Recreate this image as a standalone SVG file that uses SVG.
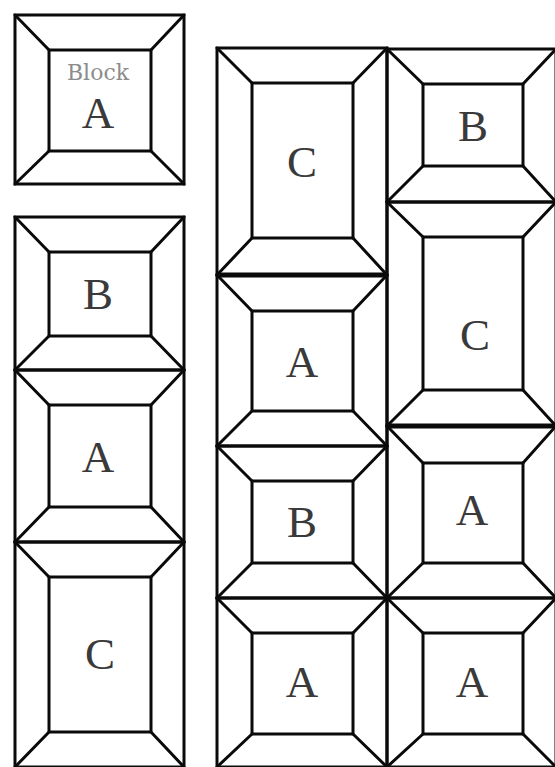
<svg xmlns="http://www.w3.org/2000/svg" width="555" height="767" viewBox="0 0 555 767">
<style>
.o,.i{fill:none;stroke:#0a0a0a;stroke-width:3}
.d{fill:none;stroke:#0a0a0a;stroke-width:3;stroke-linecap:round}
.seam{stroke:#0a0a0a;stroke-width:5}
.lbl{font-family:"Liberation Serif","Times New Roman",serif;font-size:45px;fill:#3a3a3a;text-anchor:middle}
.cap{font-family:"DejaVu Serif",serif;font-size:22px;fill:#8c8c8c;text-anchor:middle}
</style>
<rect width="555" height="767" fill="#fff"/>
<g id="legend-block-a">
<rect class="o" x="15" y="15" width="169" height="169"/>
<rect class="i" x="49" y="50" width="102" height="101"/>
<path class="d" d="M15 15L49 50M184 15L151 50M15 184L49 151M184 184L151 151"/>
<text class="cap" x="98" y="80">Block</text>
<text class="lbl" x="98" y="128">A</text>
</g>
<g id="left-b">
<rect class="o" x="15" y="217" width="169" height="153"/>
<rect class="i" x="49" y="252" width="102" height="84"/>
<path class="d" d="M15 217L49 252M184 217L151 252M15 370L49 336M184 370L151 336"/>
<text class="lbl" x="98" y="309">B</text>
</g>
<g id="left-a">
<rect class="o" x="15" y="370" width="169" height="172"/>
<rect class="i" x="49" y="405" width="102" height="102"/>
<path class="d" d="M15 370L49 405M184 370L151 405M15 542L49 507M184 542L151 507"/>
<text class="lbl" x="98" y="472">A</text>
</g>
<g id="left-c">
<rect class="o" x="15" y="542" width="169" height="225"/>
<rect class="i" x="49" y="577" width="102" height="155"/>
<path class="d" d="M15 542L49 577M184 542L151 577M15 767L49 732M184 767L151 732"/>
<text class="lbl" x="100" y="669">C</text>
</g>
<g id="col1-c">
<rect class="o" x="217" y="48" width="170" height="227"/>
<rect class="i" x="252" y="83" width="101" height="155"/>
<path class="d" d="M217 48L252 83M387 48L353 83M217 275L252 238M387 275L353 238"/>
<text class="lbl" x="302" y="177">C</text>
</g>
<g id="col1-a">
<rect class="o" x="217" y="275" width="170" height="171"/>
<rect class="i" x="252" y="311" width="101" height="100"/>
<path class="d" d="M217 275L252 311M387 275L353 311M217 446L252 411M387 446L353 411"/>
<text class="lbl" x="302" y="377">A</text>
</g>
<g id="col1-b">
<rect class="o" x="217" y="446" width="170" height="152"/>
<rect class="i" x="252" y="481" width="101" height="82"/>
<path class="d" d="M217 446L252 481M387 446L353 481M217 598L252 563M387 598L353 563"/>
<text class="lbl" x="302" y="537">B</text>
</g>
<g id="col1-a2">
<rect class="o" x="217" y="598" width="170" height="169"/>
<rect class="i" x="252" y="633" width="101" height="101"/>
<path class="d" d="M217 598L252 633M387 598L353 633M217 767L252 734M387 767L353 734"/>
<text class="lbl" x="302" y="697">A</text>
</g>
<g id="col2-b">
<rect class="o" x="387" y="49" width="169" height="153"/>
<rect class="i" x="423" y="84" width="100" height="82"/>
<path class="d" d="M387 49L423 84M556 49L523 84M387 202L423 166M556 202L523 166"/>
<text class="lbl" x="473" y="141">B</text>
</g>
<g id="col2-c">
<rect class="o" x="387" y="202" width="169" height="224"/>
<rect class="i" x="423" y="237" width="100" height="153"/>
<path class="d" d="M387 202L423 237M556 202L523 237M387 426L423 390M556 426L523 390"/>
<text class="lbl" x="475" y="350">C</text>
</g>
<g id="col2-a">
<rect class="o" x="387" y="426" width="169" height="172"/>
<rect class="i" x="423" y="463" width="100" height="100"/>
<path class="d" d="M387 426L423 463M556 426L523 463M387 598L423 563M556 598L523 563"/>
<text class="lbl" x="472" y="525">A</text>
</g>
<g id="col2-a2">
<rect class="o" x="387" y="598" width="169" height="169"/>
<rect class="i" x="423" y="633" width="100" height="101"/>
<path class="d" d="M387 598L423 633M556 598L523 633M387 767L423 734M556 767L523 734"/>
<text class="lbl" x="472" y="697">A</text>
</g>
<g id="seams">
<line class="seam" x1="217" y1="275" x2="387" y2="275"/>
<line class="seam" x1="387" y1="426" x2="556" y2="426"/>
</g>
</svg>
